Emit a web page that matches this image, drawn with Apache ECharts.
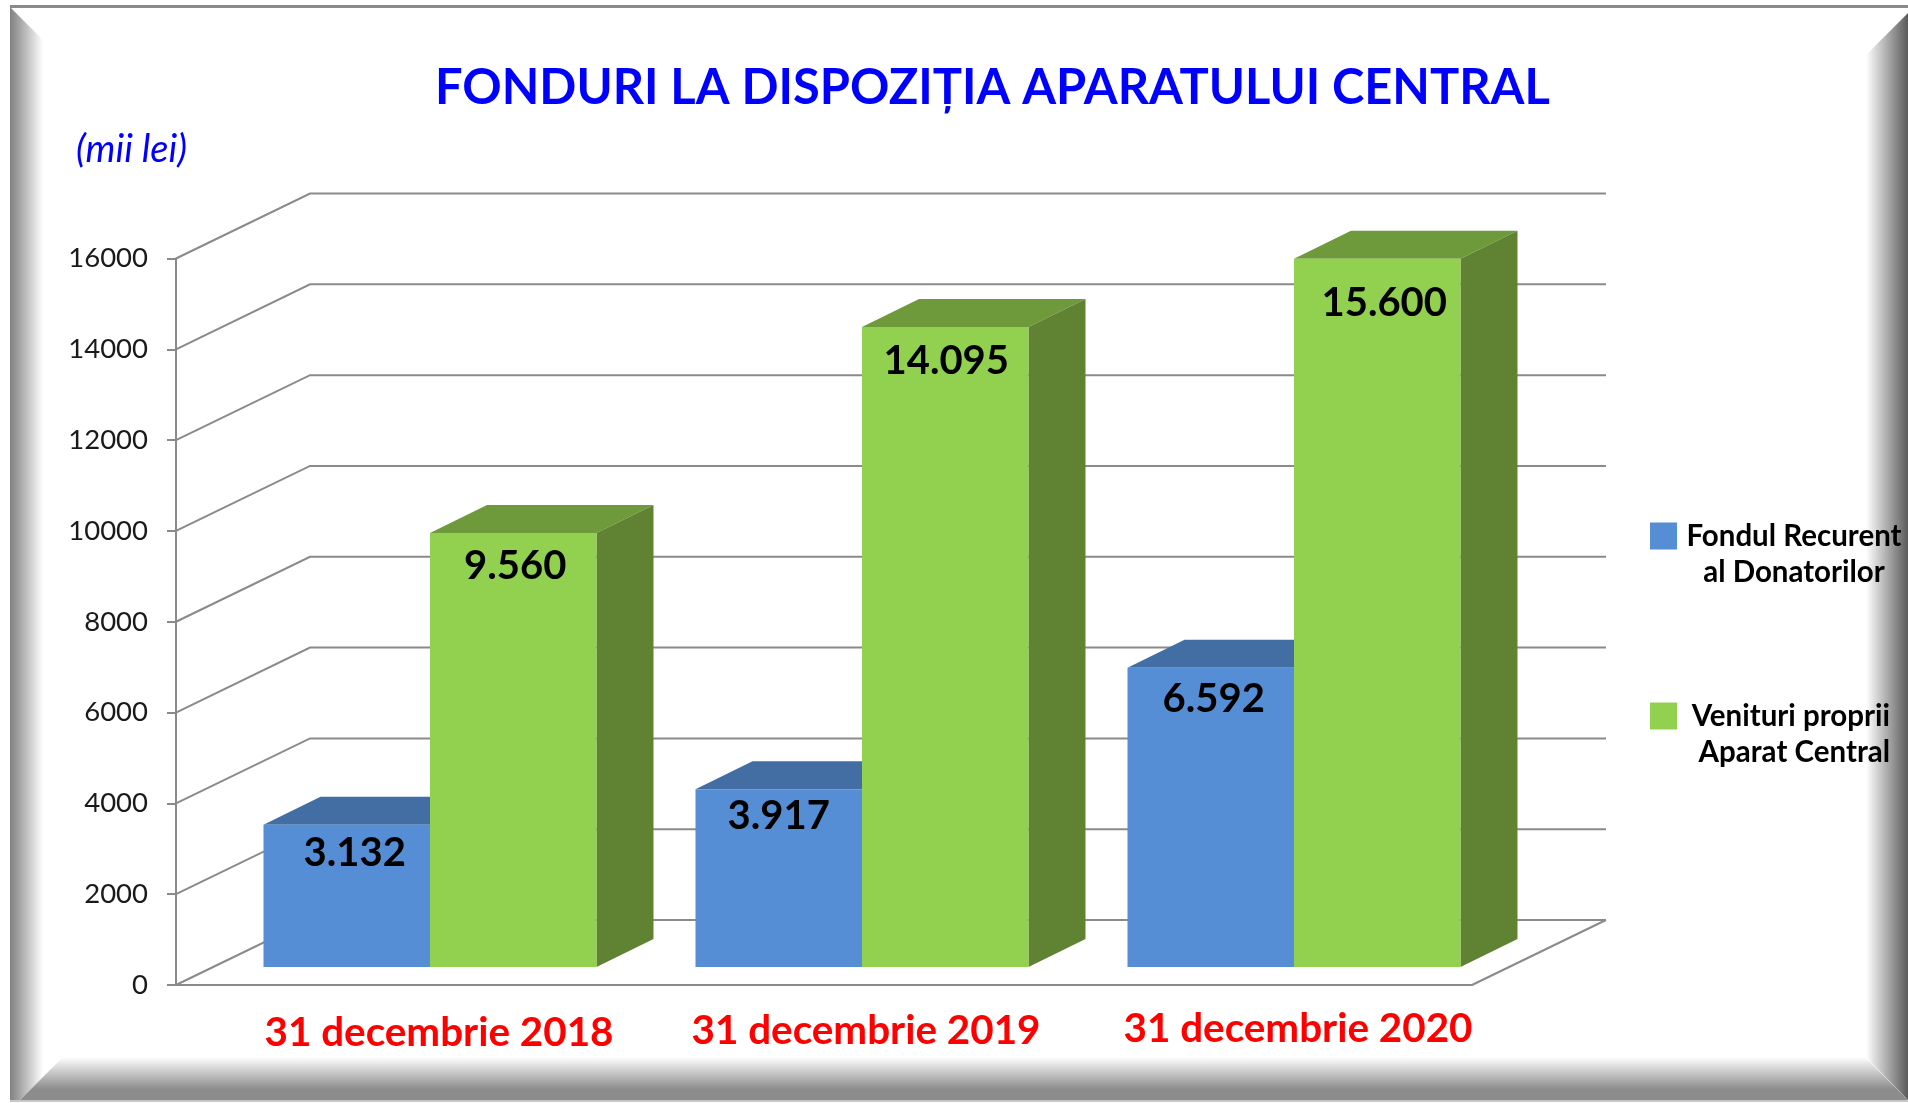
<!DOCTYPE html>
<html>
<head>
<meta charset="utf-8">
<style>html,body{margin:0;padding:0;background:#fff}#c{width:1908px;height:1103px}</style>
<script src="https://cdn.jsdelivr.net/npm/echarts@6/dist/echarts.min.js"></script>
</head>
<body>
<div id="c"></div>
<script>
const categories = ['31 decembrie 2018', '31 decembrie 2019', '31 decembrie 2020'];
const fondulRecurent = [3132, 3917, 6592];
const venituriProprii = [9560, 14095, 15600];
const tickValues = [0, 2000, 4000, 6000, 8000, 10000, 12000, 14000, 16000];
const seriesNames = ['Fondul Recurent\nal Donatorilor', 'Venituri proprii\nAparat Central'];

const FONT = 'Lato';
const GRAY = '#8a8a8a';
const FLOOR_DX = 134, FLOOR_DY = 65;
const BAR_INSET_X = 38, BAR_INSET_Y = 18, BAR_DX = 57, BAR_DY = 28, BAR_W = 166.5;
const labelNudge = [
  [[8, 28], [0, 27], [3, 31]],
  [[2, 33], [1, 34], [7, 44]]
];

const fmt = v => String(v).replace(/\B(?=(\d{3})+$)/g, '.');

function renderGrid(params, api) {
  const cs = params.coordSys;
  const y = api.coord([0, api.value(1)])[1];
  const x0 = cs.x, x1 = cs.x + cs.width;
  const lineStyle = { stroke: GRAY, lineWidth: 2, fill: null };
  const children = [{
    type: 'polyline',
    shape: { points: [[x0, y], [x0 + FLOOR_DX, y - FLOOR_DY], [x1 + FLOOR_DX, y - FLOOR_DY]] },
    style: lineStyle
  }];
  if (api.value(1) === 0) {
    children.push({
      type: 'line',
      shape: { x1: x1, y1: y, x2: x1 + FLOOR_DX, y2: y - FLOOR_DY },
      style: lineStyle
    });
  }
  return { type: 'group', children };
}

function bar3d(side, front, top, rightSide) {
  return function (params, api) {
    const i = api.value(0), v = api.value(1);
    const c = api.coord([i, v]), b = api.coord([i, 0]);
    const xL = c[0] + BAR_INSET_X + (side === 0 ? -BAR_W : 0);
    const xR = xL + BAR_W;
    const yT = c[1] - BAR_INSET_Y, yB = b[1] - BAR_INSET_Y;
    const n = labelNudge[side][i];
    return {
      type: 'group',
      children: [
        { type: 'polygon', shape: { points: [[xL, yT], [xL + BAR_DX, yT - BAR_DY], [xR + BAR_DX, yT - BAR_DY], [xR, yT]] }, style: { fill: top } },
        { type: 'polygon', shape: { points: [[xR, yT], [xR + BAR_DX, yT - BAR_DY], [xR + BAR_DX, yB - BAR_DY], [xR, yB]] }, style: { fill: rightSide } },
        { type: 'rect', shape: { x: xL, y: yT, width: BAR_W, height: yB - yT }, style: { fill: front } },
        { type: 'text', z2: 10, style: { text: fmt(v), x: (xL + xR) / 2 + n[0], y: yT + n[1], align: 'center', verticalAlign: 'middle', fill: '#000', font: 'bold 40px ' + FONT } }
      ]
    };
  };
}

function poly(points, x2, y2, stops) {
  return {
    type: 'polygon', silent: true, shape: { points },
    style: { fill: { type: 'linear', x: 0, y: 0, x2, y2, colorStops: stops.map(s => ({ offset: s[0], color: s[1] })) } }
  };
}

const chart = echarts.init(document.getElementById('c'), null, { renderer: 'canvas' });
chart.setOption({
  backgroundColor: '#fff',
  animation: false,
  title: [
    { text: 'FONDURI LA DISPOZIȚIA APARATULUI CENTRAL', left: 435, top: 64, padding: 0,
      textStyle: { fontFamily: FONT, fontWeight: 'bold', fontSize: 48.8, color: '#0000ff' } },
    { text: '(mii lei)', left: 76, top: 131, padding: 0,
      textStyle: { fontFamily: FONT, fontStyle: 'italic', fontWeight: 'normal', fontSize: 38, color: '#0000ff' } }
  ],
  grid: { left: 176, top: 258.5, width: 1296, height: 726.5, containLabel: false },
  xAxis: {
    type: 'category', data: categories, boundaryGap: true,
    axisLine: { show: true, lineStyle: { color: GRAY, width: 2 } },
    axisTick: { show: false },
    axisLabel: {
      margin: 24, interval: 0, padding: [0, 0, 0, 89],
      formatter: (v, i) => '{c' + i + '|' + v + '}',
      rich: {
        c0: { fontFamily: FONT, fontWeight: 'bold', fontSize: 40.4, color: '#ff0000', padding: [4, 0, 0, 5] },
        c1: { fontFamily: FONT, fontWeight: 'bold', fontSize: 40.4, color: '#ff0000', padding: [2, 5, 0, 0] },
        c2: { fontFamily: FONT, fontWeight: 'bold', fontSize: 40.4, color: '#ff0000', padding: [0, 5, 0, 0] }
      }
    }
  },
  yAxis: {
    type: 'value', min: 0, max: 16000, interval: 2000,
    axisLine: { show: true, lineStyle: { color: GRAY, width: 2 } },
    axisTick: { show: true, length: 9, lineStyle: { color: GRAY, width: 2 } },
    splitLine: { show: false },
    axisLabel: { margin: 28, padding: [8, 0, 0, 0], fontFamily: FONT, fontSize: 27.5, color: '#1a1a1a', formatter: v => String(v) }
  },
  legend: {
    orient: 'vertical', left: 1650, top: 485, padding: 0, itemGap: 78,
    itemWidth: 27, itemHeight: 27, icon: 'rect', selectedMode: false,
    data: seriesNames,
    formatter: name => {
      const p = name.split('\n');
      const k = name === seriesNames[0] ? ['a', 'b'] : ['c', 'd'];
      return '{s| }\n{' + k[0] + '|' + p[0] + '}\n{' + k[1] + '|' + p[1] + '}';
    },
    textStyle: {
      rich: {
        s: { lineHeight: 36, fontSize: 29.5, fontFamily: FONT },
        a: { lineHeight: 36, fontSize: 29.5, fontFamily: FONT, fontWeight: 'bold', color: '#000', width: 224, align: 'center' },
        b: { lineHeight: 36, fontSize: 29.5, fontFamily: FONT, fontWeight: 'bold', color: '#000', width: 224, align: 'center' },
        c: { lineHeight: 36, fontSize: 29.5, fontFamily: FONT, fontWeight: 'bold', color: '#000', width: 208, align: 'right' },
        d: { lineHeight: 36, fontSize: 29.5, fontFamily: FONT, fontWeight: 'bold', color: '#000', width: 208, align: 'right' }
      }
    }
  },
  graphic: [
    poly([[10, 7], [43, 40], [43, 1077], [20, 1100], [10, 1101]], 1, 0, [[0, '#838383'], [0.12, '#8f8f8f'], [1, '#ffffff']]),
    poly([[63, 1057], [1865, 1057], [1908, 1100], [20, 1100]], 0, 1, [[0, '#ffffff'], [0.75, '#8c8c8c'], [1, '#8c8c8c']]),
    poly([[1866, 55], [1908, 13], [1908, 1100], [1866, 1057]], 1, 0, [[0, '#ffffff'], [1, '#5a5a5a']]),
    { type: 'rect', silent: true, shape: { x: 10, y: 5, width: 1898, height: 3 }, style: { fill: '#8a8a8a' } },
    { type: 'rect', silent: true, shape: { x: 10, y: 1100, width: 1898, height: 2 }, style: { fill: '#c8c8c8' } }
  ],
  series: [
    { type: 'custom', name: 'grid3d', silent: true, renderItem: renderGrid, clip: false,
      encode: { x: 0, y: 1 }, data: tickValues.map(v => [0, v]) },
    { type: 'custom', name: seriesNames[0], silent: true, clip: false, itemStyle: { color: '#558ed5' },
      renderItem: bar3d(0, '#558ed5', '#426ea3', '#426ea3'),
      encode: { x: 0, y: 1 }, data: fondulRecurent.map((v, i) => [i, v]) },
    { type: 'custom', name: seriesNames[1], silent: true, clip: false, itemStyle: { color: '#92d050' },
      renderItem: bar3d(1, '#92d050', '#6f9a3c', '#5f8332'),
      encode: { x: 0, y: 1 }, data: venituriProprii.map((v, i) => [i, v]) }
  ]
});
</script>
</body>
</html>
